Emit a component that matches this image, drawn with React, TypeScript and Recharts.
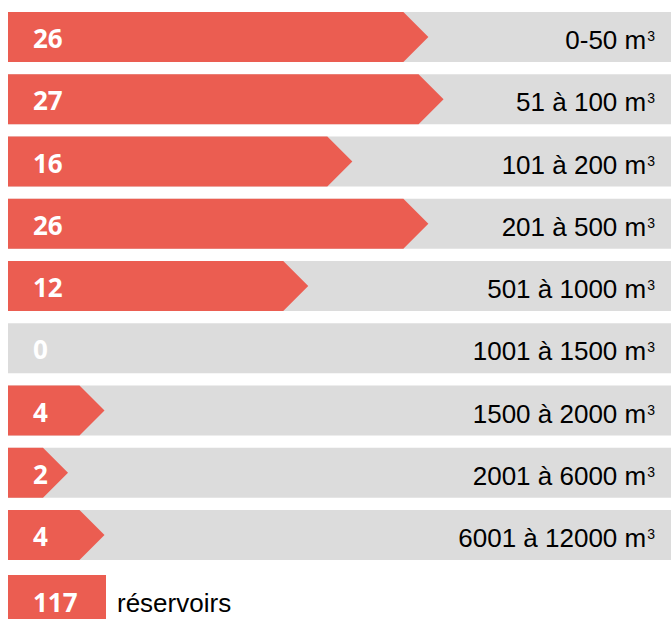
import React from 'react';
import { BarChart, Bar, XAxis, YAxis, LabelList } from 'recharts';

// Volume classes (category labels, top to bottom)
const categories = [
  '0-50 m³',
  '51 à 100 m³',
  '101 à 200 m³',
  '201 à 500 m³',
  '501 à 1000 m³',
  '1001 à 1500 m³',
  '1500 à 2000 m³',
  '2001 à 6000 m³',
  '6001 à 12000 m³',
];
// Number of reservoirs per class (printed values)
const counts = [26, 27, 16, 26, 12, 0, 4, 2, 4];
// Bar lengths as drawn in the infographic (in count units; not strictly proportional)
const drawnLengths = [26, 27, 21, 26, 18.1, 0, 4.7, 2.3, 4.7];
const axisMax = 43.6;
const totalUnit = 'réservoirs';

const RED = '#EB5D51';
const GRAY = '#DCDCDC';
const CHART_W = 663;
const LABEL_PAD = 16;

const data = categories.map((c, i) => ({ category: c, count: counts[i], length: drawnLengths[i] }));
const total = counts.reduce((a, b) => a + b, 0);

const ArrowBar = (props: any) => {
  const { x, y, width, height, fill } = props;
  if (!width || width <= 0) return null;
  const tip = height / 2;
  const pts = [
    [x, y],
    [x + width, y],
    [x + width + tip, y + height / 2],
    [x + width, y + height],
    [x, y + height],
  ]
    .map((p) => p.join(','))
    .join(' ');
  return <polygon points={pts} fill={fill} />;
};

const CountLabel = (props: any) => {
  const { x, y, height, index } = props;
  return (
    <text
      x={x + 25}
      y={y + height / 2 + 11}
      fill="#FFFFFF"
      fontFamily="'Open Sans', sans-serif"
      fontWeight={700}
      fontSize={26}
      textAnchor="start"
    >
      {counts[index]}
    </text>
  );
};

const CategoryLabel = (props: any) => {
  const { y, height, index } = props;
  const label = categories[index];
  const hasSup = label.endsWith('³');
  const main = hasSup ? label.slice(0, -1) : label;
  return (
    <text
      x={CHART_W - LABEL_PAD}
      y={y + height / 2 + 12}
      fill="#000000"
      fontFamily="'Liberation Sans', Arial, sans-serif"
      fontSize={26}
      textAnchor="end"
    >
      {main}
      {hasSup ? (
        <tspan fontSize={14} dx={1} dy={-8}>
          3
        </tspan>
      ) : null}
    </text>
  );
};

export default function App() {
  return (
    <div style={{ position: 'relative', width: CHART_W, height: 611, margin: '8px 0 0 8px' }}>
      <style>{`html{overflow:hidden;} body{margin:0;}`}</style>
      <div style={{ position: 'absolute', top: -2.125, left: 0, width: CHART_W }}>
        <BarChart
          width={CHART_W}
          height={560.25}
          data={data}
          layout="vertical"
          margin={{ top: 0, right: 0, bottom: 0, left: 0 }}
        >
          <XAxis type="number" domain={[0, axisMax]} hide />
          <YAxis type="category" dataKey="category" hide />
          <Bar
            dataKey="length"
            barSize={50}
            fill={RED}
            background={{ fill: GRAY }}
            shape={<ArrowBar />}
            isAnimationActive={false}
          >
            <LabelList dataKey="length" content={<CountLabel />} />
            <LabelList dataKey="category" content={<CategoryLabel />} />
          </Bar>
        </BarChart>
      </div>
      <svg
        width={CHART_W}
        height={50}
        style={{ position: 'absolute', top: 567, left: 0, overflow: 'visible' }}
      >
        <rect x={0} y={0} width={98} height={50} fill={RED} />
        <text
          x={25}
          y={37}
          fill="#FFFFFF"
          fontFamily="'Open Sans', sans-serif"
          fontWeight={700}
          fontSize={26}
        >
          {total}
        </text>
        <text x={109} y={37} fill="#000000" fontFamily="'Liberation Sans', Arial, sans-serif" fontSize={26}>
          {totalUnit}
        </text>
      </svg>
    </div>
  );
}
